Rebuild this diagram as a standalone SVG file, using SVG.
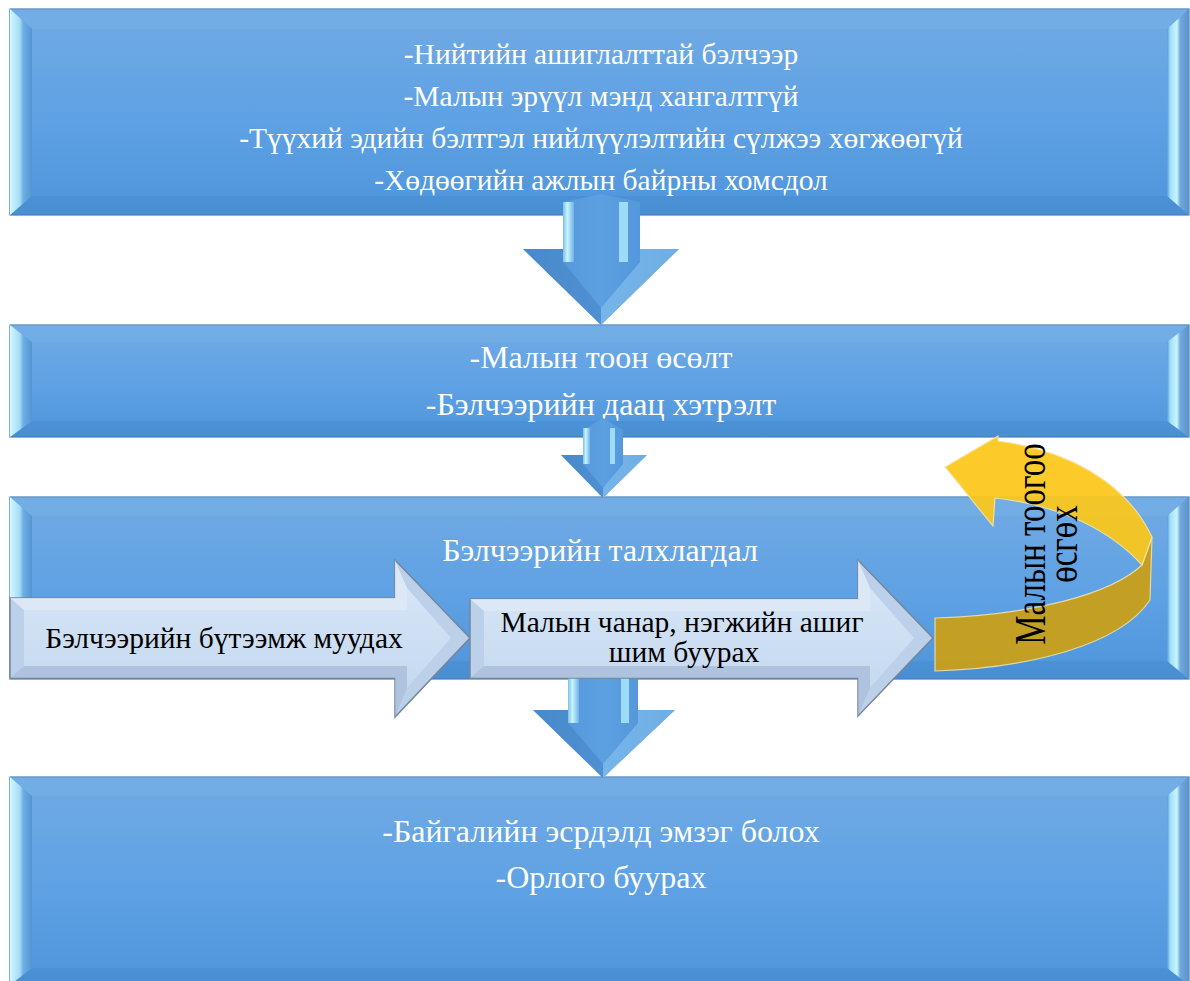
<svg xmlns="http://www.w3.org/2000/svg" width="1190" height="981" viewBox="0 0 1190 981">
<style>
.t{font-family:"Liberation Serif","DejaVu Serif",serif;font-size:32px;fill:#ffffff;text-anchor:middle}
.t1{font-size:29.5px}
.k{font-family:"Liberation Serif","DejaVu Serif",serif;font-size:29.5px;fill:#000000;text-anchor:middle}
.body{fill:url(#gBody);stroke:#4A7CB0;stroke-width:1.2}
.bl{fill:url(#gLeft)}
.br{fill:url(#gRight)}
.bt{fill:#78B1E7;opacity:0.45}
.bb{fill:#3F84C8;opacity:0.35}
.dOut{fill:url(#gDown)}
.dStripL{fill:url(#gStrip)}
.dStripR{fill:#A8E8FB;opacity:0.85}
.dFacL{fill:#3F7FC0;opacity:0.5}
.dFacR{fill:#8CC6F0;opacity:0.55}
.hOut{fill:#BCD0EA;stroke:#76869A;stroke-width:1.5}
.hIn{fill:url(#gHArr)}
.hTop{fill:#E4EEF9;opacity:0.8}
.hBot{fill:#A9BDD8;opacity:0.7}
</style>
<defs>
<linearGradient id="gBody" x1="0" y1="0" x2="0" y2="1">
<stop offset="0" stop-color="#71AAE3"/>
<stop offset="0.55" stop-color="#5EA1E4"/>
<stop offset="1" stop-color="#4F95DA"/>
</linearGradient>
<linearGradient id="gLeft" x1="0" y1="0" x2="1" y2="0">
<stop offset="0" stop-color="#D2F7FF"/>
<stop offset="0.45" stop-color="#A3DCF6"/>
<stop offset="0.6" stop-color="#6EAEE4"/>
<stop offset="1" stop-color="#5595D3"/>
</linearGradient>
<linearGradient id="gRight" x1="0" y1="0" x2="1" y2="0">
<stop offset="0" stop-color="#5B9ADA"/>
<stop offset="0.15" stop-color="#9EE0F8"/>
<stop offset="0.45" stop-color="#C8F6FF"/>
<stop offset="0.6" stop-color="#6FA9DE"/>
<stop offset="1" stop-color="#5A92CC"/>
</linearGradient>
<linearGradient id="gDown" x1="0" y1="0" x2="1" y2="0">
<stop offset="0" stop-color="#4F93D8"/>
<stop offset="0.5" stop-color="#5CA0E2"/>
<stop offset="1" stop-color="#4C8FD4"/>
</linearGradient>
<linearGradient id="gStrip" x1="0" y1="0" x2="1" y2="0">
<stop offset="0" stop-color="#7CC0EC"/>
<stop offset="0.4" stop-color="#C8F5FF"/>
<stop offset="1" stop-color="#6FB1E6"/>
</linearGradient>
<linearGradient id="gHArr" x1="0" y1="0" x2="0" y2="1">
<stop offset="0" stop-color="#D6E5F6"/>
<stop offset="1" stop-color="#C6D9F0"/>
</linearGradient>
</defs>

<g id="box1">
<rect class="body" x="10" y="9" width="1179" height="206"/>
<polygon class="bt" points="10,9 1189,9 1167,29 32,29"/>
<polygon class="bb" points="10,215 1189,215 1167,196 32,196"/>
<polygon class="bl" points="10,9 32,29 32,196 10,215"/>
<polygon class="br" points="1189,9 1167,29 1167,196 1189,215"/>
<text class="t t1" x="601" y="64">-Нийтийн ашиглалттай бэлчээр</text>
<text class="t t1" x="601" y="106">-Малын эрүүл мэнд хангалтгүй</text>
<text class="t t1" x="601" y="148">-Түүхий эдийн бэлтгэл нийлүүлэлтийн сүлжээ хөгжөөгүй</text>
<text class="t t1" x="601" y="190">-Хөдөөгийн ажлын байрны хомсдол</text>
</g>

<g id="box2">
<rect class="body" x="10" y="325" width="1179" height="112"/>
<polygon class="bt" points="10,325 1189,325 1167,342 32,342"/>
<polygon class="bb" points="10,437 1189,437 1167,421 32,421"/>
<polygon class="bl" points="10,325 32,342 32,421 10,437"/>
<polygon class="br" points="1189,325 1167,342 1167,421 1189,437"/>
<text class="t" x="601" y="368">-Малын тоон өсөлт</text>
<text class="t" x="601" y="415">-Бэлчээрийн даац хэтрэлт</text>
</g>

<g id="box3">
<rect class="body" x="10" y="497" width="1179" height="182"/>
<polygon class="bt" points="10,497 1189,497 1167,516 32,516"/>
<polygon class="bb" points="10,679 1189,679 1167,661 32,661"/>
<polygon class="bl" points="10,497 32,516 32,661 10,679"/>
<polygon class="br" points="1189,497 1167,516 1167,661 1189,679"/>
<text class="t" x="600" y="561">Бэлчээрийн талхлагдал</text>
</g>

<g id="box4">
<rect class="body" x="10" y="777" width="1179" height="208"/>
<polygon class="bt" points="10,777 1189,777 1167,796 32,796"/>
<polygon class="bb" points="10,985 1189,985 1167,968 32,968"/>
<polygon class="bl" points="10,777 32,796 32,968 10,985"/>
<polygon class="br" points="1189,777 1167,796 1167,968 1189,985"/>
<text class="t" x="601" y="842">-Байгалийн эсрдэлд эмзэг болох</text>
<text class="t" x="601" y="888">-Орлого буурах</text>
</g>

<g id="connectors">
<g id="down1">
<path class="dOut" d="M563,202 L601,194 L640,202 V249 H679 L601,325 L523,249 H563 Z"/>
<rect class="dStripL" x="563" y="202" width="11" height="60"/>
<rect class="dStripR" x="619" y="202" width="9" height="60"/>
<polygon class="dFacL" points="523,249 563,249 563,262 601,308 601,325"/>
<polygon class="dFacR" points="679,249 640,249 640,262 601,308 601,325"/>
</g>
<g id="down2">
<path class="dOut" d="M583,430 L603,418 L623,430 V455 H647 L603,498 L561,455 H583 Z"/>
<rect class="dStripL" x="583" y="428" width="7" height="36"/>
<rect class="dStripR" x="610" y="428" width="5" height="36"/>
<polygon class="dFacL" points="561,455 583,455 583,464 603,488 603,498"/>
<polygon class="dFacR" points="647,455 623,455 623,464 603,488 603,498"/>
</g>
<g id="down3">
<path class="dOut" d="M568,665 H638 V710 H675 L603,778 L533,710 H568 Z"/>
<rect class="dStripL" x="568" y="665" width="11" height="58"/>
<rect class="dStripR" x="621" y="665" width="8" height="58"/>
<polygon class="dFacL" points="533,710 568,710 568,723 603,764 603,778"/>
<polygon class="dFacR" points="675,710 638,710 638,723 603,764 603,778"/>
</g>
</g>

<g id="arrow1">
<polygon class="hOut" points="10,598 395,598 395,560 470,638 395,717 395,678 10,678"/>
<polygon class="hIn" points="24,610 407,610 407,588 451,638 407,688 407,666 24,666"/>
<polygon class="hTop" points="10,598 395,598 395,560 407,588 407,610 24,610"/>
<polygon class="hBot" points="10,678 395,678 395,717 407,688 407,666 24,666"/>
<text class="k" x="224" y="648">Бэлчээрийн бүтээмж муудах</text>
</g>

<g id="arrow2">
<polygon class="hOut" points="470,599 858,599 858,560 933,638 858,716 858,678 470,678"/>
<polygon class="hIn" points="484,611 870,611 870,588 914,638 870,688 870,666 484,666"/>
<polygon class="hTop" points="470,599 858,599 858,560 870,588 870,611 484,611"/>
<polygon class="hBot" points="470,678 858,678 858,716 870,688 870,666 484,666"/>
<text class="k" x="682" y="632">Малын чанар, нэгжийн ашиг</text>
<text class="k" x="684" y="662">шим буурах</text>
</g>

<g id="curved">
<path d="M935,618 C1030,615 1110,595 1142,565 L1152,537 L1150,600 C1120,645 1030,668 935,671 Z" fill="#C9A01A" stroke="#E9DDA8" stroke-width="1.2" opacity="0.95"/>
<path d="M945,467 L998,436 L998,441 C1065,450 1125,480 1152,537 L1142,565 C1110,530 1060,505 995,498 L993,526 Z" fill="#FCC81A" stroke="#F3E3A5" stroke-width="1.2" opacity="0.93"/>
<g transform="translate(1045,544) rotate(-90) scale(1,1.36)">
<text class="k" style="font-size:33px" x="0" y="0">Малын тоогоо</text>
<text class="k" style="font-size:33px" x="0" y="23.5">өсгөх</text>
</g>
</g>
</svg>
